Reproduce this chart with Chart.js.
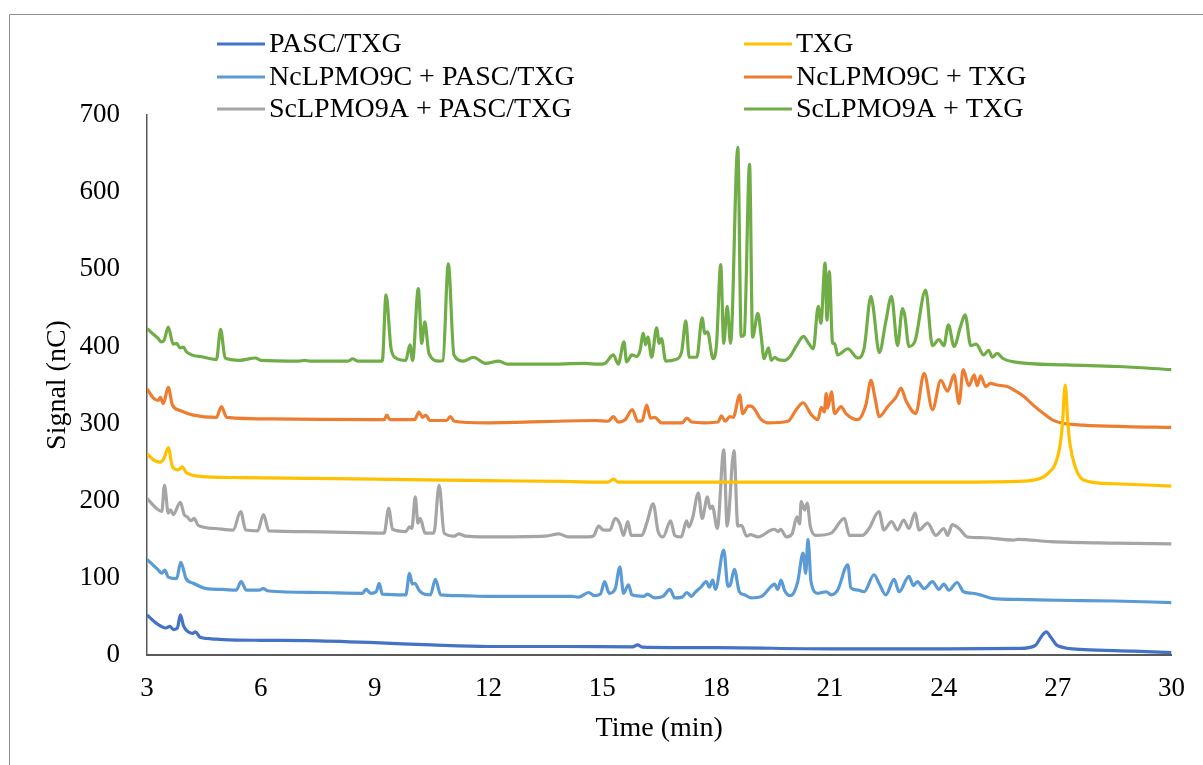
<!DOCTYPE html>
<html>
<head>
<meta charset="utf-8">
<script src="https://cdn.jsdelivr.net/npm/chart.js@4.4.1/dist/chart.umd.min.js"></script>
<style>
  html, body { margin: 0; padding: 0; background: #fff; }
  canvas { display: block; }
</style>
</head>
<body>
<canvas id="chart" width="1203" height="765"></canvas>
<script>
// series names / colours, in legend order (row by row, 2 columns)
const seriesNames = ["PASC/TXG", "TXG", "NcLPMO9C + PASC/TXG", "NcLPMO9C + TXG", "ScLPMO9A + PASC/TXG", "ScLPMO9A + TXG"];
const seriesColors = ["#4472C4", "#FFC000", "#5B9BD5", "#ED7D31", "#A5A5A5", "#70AD47"];

const xTickValues = [3, 6, 9, 12, 15, 18, 21, 24, 27, 30];
const yTickValues = [0, 100, 200, 300, 400, 500, 600, 700];

// [time (min), signal (nC)]
const pascTxg = [[3.0,52],[3.25,41],[3.5,35],[3.6,37],[3.7,33],[3.8,35],[3.88,52],[3.96,38],[4.04,32],[4.2,28],[4.28,30],[4.4,23],[4.7,21],[5.0,20],[6.0,19],[7.2,18.6],[9.0,16],[10.5,13],[12.0,11],[14.0,11],[15.8,10.5],[15.93,13],[16.05,10.3],[18.0,9.5],[21.0,8],[24.0,8],[26.0,8.5],[26.4,12],[26.6,26],[26.7,30],[26.82,23],[27.0,12],[27.7,7],[29.0,5],[30.0,3]];

const txg = [[3.0,261],[3.17,253],[3.35,250],[3.45,255],[3.56,269],[3.67,244],[3.82,240],[3.93,244],[4.04,236],[4.57,231],[5.5,230],[7.2,229],[9.0,228],[11.92,226],[14.0,225],[15.15,224],[15.29,228],[15.42,224],[18.0,224],[20.94,224],[24.0,224],[25.93,225],[26.4,227],[26.63,231],[26.84,240],[26.94,248],[27.05,268],[27.12,296],[27.2,350],[27.27,300],[27.32,275],[27.46,244],[27.68,227],[28.5,222],[30.0,219]];

const ncPascTxg = [[3.0,124],[3.3,110],[3.39,106],[3.47,110],[3.56,101],[3.78,99],[3.89,120],[4.03,99],[4.22,93],[4.57,86],[5.0,85],[5.35,84],[5.48,95],[5.62,84],[5.95,84],[6.06,86],[6.2,83],[7.5,81],[8.68,80],[8.77,85],[8.9,80],[9.04,82],[9.12,93],[9.2,79],[9.82,78],[9.92,106],[9.99,92],[10.06,93],[10.17,84],[10.26,80],[10.47,78],[10.6,98],[10.74,78],[11.2,77],[12.0,76],[13.5,76],[14.2,76],[14.37,75],[14.64,81],[14.79,77],[14.95,79],[15.06,95],[15.18,80],[15.34,86],[15.46,114],[15.56,80],[15.69,91],[15.78,78],[16.1,76],[16.18,79],[16.38,74],[16.6,76],[16.78,85],[16.91,74],[17.1,75],[17.23,81],[17.35,76],[17.44,81],[17.6,88],[17.74,95],[17.82,88],[17.91,97],[17.98,85],[18.2,136],[18.31,89],[18.38,92],[18.48,111],[18.61,82],[18.75,78],[18.92,74],[19.2,76],[19.45,89],[19.54,92],[19.62,85],[19.71,97],[19.8,84],[19.95,77],[20.05,81],[20.15,95],[20.29,132],[20.36,106],[20.42,150],[20.5,95],[20.68,80],[20.9,82],[21.03,78],[21.2,84],[21.47,117],[21.55,87],[21.75,84],[21.9,82],[22.16,104],[22.3,92],[22.47,78],[22.69,98],[22.82,82],[23.08,102],[23.2,90],[23.3,95],[23.48,86],[23.7,95],[23.87,85],[24.0,92],[24.13,84],[24.35,94],[24.52,82],[24.75,80],[24.96,78],[25.31,73],[25.93,72],[27.0,71],[28.5,70],[30.0,68]];

const ncTxg = [[3.0,345],[3.17,333],[3.3,330],[3.35,334],[3.43,326],[3.56,347],[3.67,324],[3.87,317],[4.22,311],[4.83,308],[4.96,322],[5.1,308],[6.3,306],[8.95,305],[9.25,305],[9.32,311],[9.4,305],[10.05,305],[10.17,315],[10.26,308],[10.35,311],[10.45,304],[10.9,304],[10.99,309],[11.1,303],[11.92,301],[14.81,304],[15.15,303],[15.29,309],[15.42,302],[15.6,305],[15.79,318],[15.93,303],[16.05,304],[16.17,324],[16.27,307],[16.38,308],[16.56,301],[17.1,301],[17.23,307],[17.35,302],[17.7,301],[18.05,302],[18.14,310],[18.24,303],[18.36,309],[18.45,308],[18.62,337],[18.7,313],[18.85,323],[18.95,322],[19.19,305],[19.35,301],[19.89,303],[20.11,318],[20.29,327],[20.5,312],[20.68,305],[20.77,321],[20.85,315],[20.9,339],[20.94,320],[21.04,341],[21.12,313],[21.29,322],[21.42,313],[21.73,305],[21.95,325],[22.08,356],[22.18,335],[22.3,309],[22.52,322],[22.75,335],[22.87,346],[23.0,330],[23.26,313],[23.48,365],[23.7,318],[23.92,356],[24.1,342],[24.27,363],[24.4,326],[24.51,370],[24.66,349],[24.8,363],[24.88,349],[24.97,362],[25.1,348],[25.23,352],[25.4,350],[25.67,348],[25.9,342],[26.11,335],[26.4,322],[26.63,313],[26.85,305],[27.07,301],[27.68,298],[28.8,296],[30.0,295]];

const scPascTxg = [[3.0,203],[3.25,190],[3.39,186],[3.46,220],[3.56,184],[3.62,188],[3.69,182],[3.88,198],[3.98,182],[4.06,179],[4.16,174],[4.24,177],[4.35,168],[4.8,164],[5.27,162],[5.47,186],[5.6,162],[5.92,161],[6.07,182],[6.21,161],[7.2,160],[9.25,158],[9.37,190],[9.47,163],[9.82,160],[9.92,166],[9.98,164],[10.07,205],[10.14,171],[10.2,177],[10.33,158],[10.56,158],[10.7,220],[10.83,158],[11.1,154],[11.21,157],[11.4,154],[11.92,153],[13.5,154],[13.85,157],[14.1,153],[14.64,153],[14.78,155],[14.9,167],[15.03,162],[15.2,162],[15.34,177],[15.46,170],[15.56,155],[15.67,173],[15.76,155],[16.04,155],[16.17,171],[16.34,196],[16.47,160],[16.6,153],[16.8,174],[16.91,155],[17.08,153],[17.22,174],[17.28,166],[17.38,178],[17.53,210],[17.63,177],[17.77,205],[17.84,190],[17.9,193],[18.03,164],[18.2,266],[18.29,167],[18.47,265],[18.57,167],[18.67,168],[18.8,154],[18.9,156],[19.1,153],[19.45,162],[19.54,163],[19.63,160],[19.7,163],[19.85,153],[20.0,157],[20.13,179],[20.2,170],[20.24,199],[20.33,188],[20.4,197],[20.48,167],[20.62,155],[21.03,158],[21.38,177],[21.51,155],[21.85,155],[22.03,164],[22.29,186],[22.42,162],[22.62,173],[22.78,162],[22.94,175],[23.08,164],[23.24,184],[23.35,162],[23.57,171],[23.79,155],[24.0,164],[24.1,155],[24.22,169],[24.4,164],[24.62,153],[25.05,152],[25.84,149],[25.95,150],[26.81,147],[28.5,145],[30.0,144]];

const scTxg = [[3.0,423],[3.3,410],[3.37,406],[3.45,408],[3.56,425],[3.69,403],[3.78,404],[3.87,398],[3.96,399],[4.04,393],[4.5,386],[4.83,383],[4.94,422],[5.06,385],[5.44,382],[5.86,385],[6.0,382],[7.0,381],[7.15,382],[7.3,381],[8.3,381],[8.42,384],[8.55,381],[9.2,381],[9.3,467],[9.43,398],[9.56,385],[9.82,382],[9.93,402],[10.0,382],[10.15,475],[10.24,404],[10.32,432],[10.43,391],[10.7,381],[10.8,382],[10.94,507],[11.09,389],[11.35,381],[11.6,386],[11.92,378],[12.27,381],[12.5,377],[13.5,377],[14.55,378],[14.9,377],[15.07,378],[15.29,389],[15.42,377],[15.57,406],[15.64,380],[15.78,389],[15.9,387],[15.99,394],[16.08,417],[16.14,402],[16.2,412],[16.3,386],[16.43,424],[16.5,404],[16.56,410],[16.67,381],[16.93,383],[17.09,393],[17.2,433],[17.29,386],[17.49,386],[17.63,437],[17.7,417],[17.77,419],[17.92,384],[18.01,403],[18.12,506],[18.2,404],[18.29,452],[18.38,404],[18.57,658],[18.66,413],[18.74,415],[18.88,636],[18.96,412],[19.1,443],[19.19,412],[19.26,384],[19.38,398],[19.45,382],[19.55,386],[19.63,383],[19.8,382],[19.93,386],[20.13,402],[20.3,413],[20.45,403],[20.56,397],[20.69,452],[20.76,430],[20.87,508],[20.92,434],[20.98,497],[21.07,404],[21.12,404],[21.2,389],[21.47,397],[21.73,385],[21.9,398],[22.08,465],[22.13,454],[22.3,392],[22.47,432],[22.62,465],[22.78,401],[22.91,449],[22.97,440],[23.08,400],[23.24,407],[23.52,473],[23.7,401],[23.87,409],[24.0,401],[24.12,428],[24.27,400],[24.44,426],[24.56,441],[24.71,401],[24.85,403],[25.05,389],[25.18,395],[25.28,386],[25.41,391],[25.54,385],[25.84,380],[27.24,376],[28.56,374],[30.0,370]];

const seriesData = [pascTxg, txg, ncPascTxg, ncTxg, scPascTxg, scTxg];

const FONT = "'Liberation Serif', 'Times New Roman', serif";

// outer frame + two-column legend, drawn by hand like the Excel original
const framePlugin = {
    id: "frame",
    beforeDraw(chart) {
        const ctx = chart.ctx;
        ctx.save();
        ctx.strokeStyle = "#8c8c8c";
        ctx.lineWidth = 1;
        ctx.beginPath();
        ctx.moveTo(9.5, 765);
        ctx.lineTo(9.5, 14.5);
        ctx.lineTo(1203, 14.5);
        ctx.stroke();
        ctx.restore();
    },
    afterDraw(chart) {
        const ctx = chart.ctx;
        const colX = [217, 744];
        const rowY = [44, 77, 109];
        ctx.save();
        ctx.font = "28px " + FONT;
        ctx.textBaseline = "middle";
        ctx.fillStyle = "#000";
        chart.data.datasets.forEach((ds, i) => {
            const x = colX[i % 2];
            const y = rowY[Math.floor(i / 2)];
            ctx.strokeStyle = ds.borderColor;
            ctx.lineWidth = 3;
            ctx.beginPath();
            ctx.moveTo(x, y);
            ctx.lineTo(x + 48, y);
            ctx.stroke();
            ctx.fillText(ds.label, x + 52, y + 1);
        });
        ctx.restore();
    }
};

new Chart(document.getElementById("chart").getContext("2d"), {
    type: "line",
    data: {
        datasets: seriesNames.map((name, i) => ({
            label: name,
            data: seriesData[i].map(p => ({ x: p[0], y: p[1] })),
            borderColor: seriesColors[i],
            backgroundColor: seriesColors[i],
            borderWidth: 3.2,
            pointRadius: 0,
            cubicInterpolationMode: "monotone",
            fill: false
        }))
    },
    options: {
        responsive: false,
        devicePixelRatio: 1,
        animation: false,
        layout: { padding: { top: 115, right: 28, left: 0, bottom: 0 } },
        plugins: {
            legend: { display: false },
            tooltip: { enabled: false }
        },
        scales: {
            x: {
                type: "linear",
                min: 3,
                max: 30,
                afterFit: s => { s.height = 110; },
                afterBuildTicks: s => { s.ticks = xTickValues.map(v => ({ value: v })); },
                grid: { display: false, drawTicks: false },
                border: { display: true, color: "#595959", width: 2 },
                ticks: { color: "#000", padding: 18, font: { family: FONT, size: 27 } },
                title: {
                    display: true,
                    text: "Time (min)",
                    color: "#000",
                    padding: { top: 0, bottom: 20 },
                    font: { family: FONT, size: 28 }
                }
            },
            y: {
                min: 0,
                max: 700,
                afterFit: s => { s.width = 147; },
                afterBuildTicks: s => { s.ticks = yTickValues.map(v => ({ value: v })); },
                grid: { display: false, drawTicks: false },
                border: { display: true, color: "#595959", width: 1.5 },
                ticks: { color: "#000", padding: 27, font: { family: FONT, size: 27 } },
                title: {
                    display: true,
                    text: "Signal (nC)",
                    color: "#000",
                    padding: { top: 41, bottom: 0 },
                    font: { family: FONT, size: 28 }
                }
            }
        }
    },
    plugins: [framePlugin]
});
</script>
</body>
</html>
